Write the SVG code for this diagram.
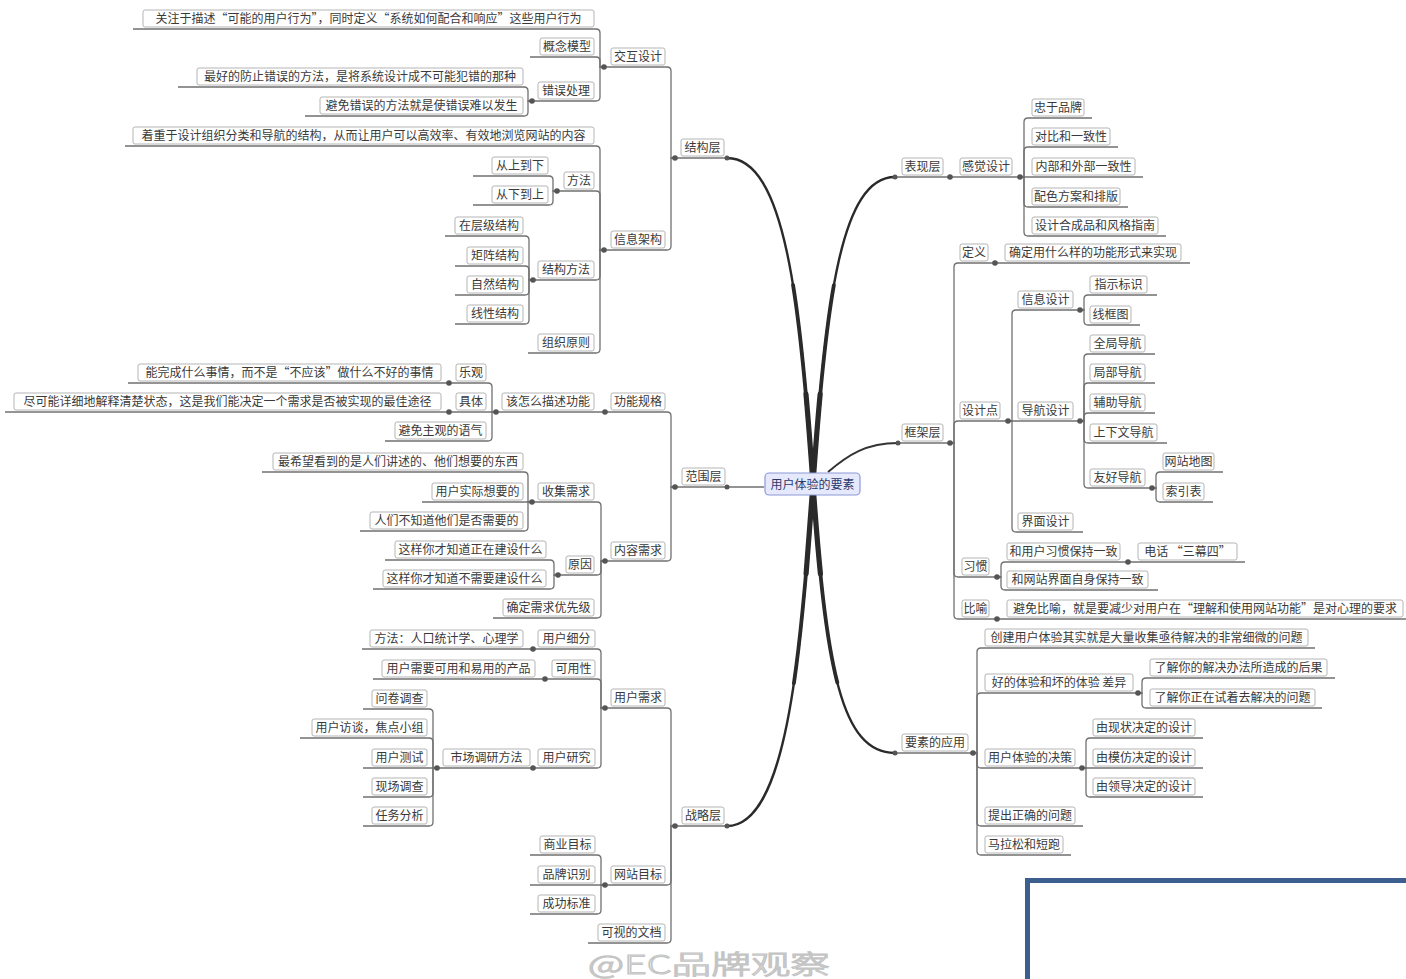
<svg xmlns="http://www.w3.org/2000/svg" width="1406" height="979" viewBox="0 0 1406 979">
<style>
.b{fill:#fff;stroke:#b5b5b5;stroke-width:1}
text{font-family:"Noto Sans CJK SC","Noto Sans",sans-serif;font-size:12px;fill:#3a3a3a;text-anchor:middle}
.c path{fill:none;stroke:#707070;stroke-width:1.3}
.c path.t1{stroke:#2a2a2a;stroke-width:2.4;stroke-linecap:round}
.c path.t2{stroke:#2a2a2a;stroke-width:3.8;stroke-linecap:round;stroke-dasharray:200 2000}
.c path.t3{stroke:#2a2a2a;stroke-width:5.2;stroke-linecap:round;stroke-dasharray:90 2000}
.c path.fw{stroke:#333;stroke-width:2}
.d circle{fill:#555}
</style>
<rect width="1406" height="979" fill="#fff"/>
<g id="connectors" class="c">
<path class="t1" d="M813,484 C800,300 785,158 727,158"/><path class="t2" d="M813,484 C800,300 785,158 727,158"/><path class="t3" d="M813,484 C800,300 785,158 727,158"/>
<path class="t1" d="M813,484 C800,668 785,826 727,826"/><path class="t2" d="M813,484 C800,668 785,826 727,826"/><path class="t3" d="M813,484 C800,668 785,826 727,826"/>
<path class="t1" d="M813,484 C826,300 841,177 895,177"/><path class="t2" d="M813,484 C826,300 841,177 895,177"/><path class="t3" d="M813,484 C826,300 841,177 895,177"/>
<path class="t1" d="M813,484 C826,668 841,753 895,753"/><path class="t2" d="M813,484 C826,668 841,753 895,753"/><path class="t3" d="M813,484 C826,668 841,753 895,753"/>
<path class="fw" d="M828,472 C848,455 866,443 898,443"/>
<path d="M764,487 H675"/>
<path d="M675,158 H727"/>
<path d="M675,826 H727"/>
<path d="M895,177 H950"/>
<path d="M898,443 H950"/>
<path d="M895,753 H973"/>
<path d="M675,158 H671 V71 Q671,67 667,67 H604"/>
<path d="M675,158 H671 V246 Q671,250 667,250 H604"/>
<path d="M604,67 H600 V33 Q600,29 596,29 H133"/>
<path d="M604,67 H600 V61 Q600,57 596,57 H530"/>
<path d="M604,67 H600 V97 Q600,101 596,101 H532"/>
<path d="M532,101 H528 V91 Q528,87 524,87 H178"/>
<path d="M532,101 H528 V112 Q528,116 524,116 H305"/>
<path d="M604,250 H600 V150 Q600,146 596,146 H125"/>
<path d="M604,250 H600 V195 Q600,191 596,191 H557"/>
<path d="M604,250 H600 V276 Q600,280 596,280 H533"/>
<path d="M604,250 H600 V349 Q600,353 596,353 H528"/>
<path d="M557,191 H553 V180 Q553,176 549,176 H473"/>
<path d="M557,191 H553 V201 Q553,205 549,205 H473"/>
<path d="M533,280 H529 V240 Q529,236 525,236 H445"/>
<path d="M533,280 H529 V270 Q529,266 525,266 H455"/>
<path d="M533,280 H529 V291 Q529,295 525,295 H455"/>
<path d="M533,280 H529 V320 Q529,324 525,324 H455"/>
<path d="M675,487 H671 V416 Q671,412 667,412 H605"/>
<path d="M675,487 H671 V557 Q671,561 667,561 H605"/>
<path d="M605,412 H496"/>
<path d="M496,412 H492 V387 Q492,383 488,383 H449"/>
<path d="M496,412 H449"/>
<path d="M496,412 H492 V437 Q492,441 488,441 H385"/>
<path d="M449,383 H128"/>
<path d="M449,412 H5"/>
<path d="M605,561 H601 V506 Q601,502 597,502 H532"/>
<path d="M605,561 H601 V571 Q601,575 597,575 H558"/>
<path d="M605,561 H601 V614 Q601,618 597,618 H493"/>
<path d="M532,502 H528 V476 Q528,472 524,472 H262"/>
<path d="M532,502 H422"/>
<path d="M532,502 H528 V527 Q528,531 524,531 H360"/>
<path d="M558,575 H554 V564 Q554,560 550,560 H385"/>
<path d="M558,575 H554 V585 Q554,589 550,589 H373"/>
<path d="M675,826 H671 V712 Q671,708 667,708 H605"/>
<path d="M675,826 H671 V881 Q671,885 667,885 H605"/>
<path d="M675,826 H671 V939 Q671,943 667,943 H588"/>
<path d="M605,708 H601 V653 Q601,649 597,649 H533"/>
<path d="M605,708 H601 V683 Q601,679 597,679 H545"/>
<path d="M605,708 H601 V764 Q601,768 597,768 H533"/>
<path d="M533,649 H362"/>
<path d="M545,679 H373"/>
<path d="M533,768 H437"/>
<path d="M437,768 H433 V713 Q433,709 429,709 H363"/>
<path d="M437,768 H433 V742 Q433,738 429,738 H300"/>
<path d="M437,768 H363"/>
<path d="M437,768 H433 V793 Q433,797 429,797 H363"/>
<path d="M437,768 H433 V822 Q433,826 429,826 H363"/>
<path d="M605,885 H601 V859 Q601,855 597,855 H530"/>
<path d="M605,885 H530"/>
<path d="M605,885 H601 V910 Q601,914 597,914 H530"/>
<path d="M950,177 H1020"/>
<path d="M1020,177 H1024 V122 Q1024,118 1028,118 H1092"/>
<path d="M1020,177 H1024 V151 Q1024,147 1028,147 H1118"/>
<path d="M1020,177 H1143"/>
<path d="M1020,177 H1024 V203 Q1024,207 1028,207 H1128"/>
<path d="M1020,177 H1024 V232 Q1024,236 1028,236 H1166"/>
<path d="M950,443 H954 V267 Q954,263 958,263 H995"/>
<path d="M950,443 H954 V425 Q954,421 958,421 H1008"/>
<path d="M950,443 H954 V573 Q954,577 958,577 H997"/>
<path d="M950,443 H954 V615 Q954,619 958,619 H997"/>
<path d="M995,263 H1190"/>
<path d="M1008,421 H1012 V314 Q1012,310 1016,310 H1080"/>
<path d="M1008,421 H1080"/>
<path d="M1008,421 H1012 V528 Q1012,532 1016,532 H1083"/>
<path d="M1080,310 H1084 V299 Q1084,295 1088,295 H1157"/>
<path d="M1080,310 H1084 V321 Q1084,325 1088,325 H1140"/>
<path d="M1080,421 H1084 V358 Q1084,354 1088,354 H1155"/>
<path d="M1080,421 H1084 V387 Q1084,383 1088,383 H1155"/>
<path d="M1080,421 H1084 V417 Q1084,413 1088,413 H1155"/>
<path d="M1080,421 H1084 V439 Q1084,443 1088,443 H1167"/>
<path d="M1080,421 H1084 V484 Q1084,488 1088,488 H1152"/>
<path d="M1152,488 H1156 V476 Q1156,472 1160,472 H1223"/>
<path d="M1152,488 H1156 V498 Q1156,502 1160,502 H1213"/>
<path d="M997,577 H1001 V566 Q1001,562 1005,562 H1128"/>
<path d="M997,577 H1001 V586 Q1001,590 1005,590 H1158"/>
<path d="M1128,562 H1245"/>
<path d="M997,619 H1406"/>
<path d="M973,753 H977 V652 Q977,648 981,648 H1315"/>
<path d="M973,753 H977 V697 Q977,693 981,693 H1138"/>
<path d="M973,753 H977 V764 Q977,768 981,768 H1082"/>
<path d="M973,753 H977 V822 Q977,826 981,826 H1083"/>
<path d="M973,753 H977 V851 Q977,855 981,855 H1071"/>
<path d="M1138,693 H1142 V682 Q1142,678 1146,678 H1335"/>
<path d="M1138,693 H1142 V704 Q1142,708 1146,708 H1322"/>
<path d="M1082,768 H1086 V742 Q1086,738 1090,738 H1203"/>
<path d="M1082,768 H1203"/>
<path d="M1082,768 H1086 V793 Q1086,797 1090,797 H1203"/>
</g>
<g id="dots" class="d">
<circle cx="727" cy="158" r="2.5"/><circle cx="727" cy="826" r="2.5"/><circle cx="895" cy="177" r="2.5"/><circle cx="895" cy="753" r="2.5"/><circle cx="898" cy="443" r="2.5"/><circle cx="727" cy="487" r="2.5"/>
<circle cx="675" cy="158" r="2.8"/><circle cx="604" cy="67" r="2.8"/><circle cx="532" cy="101" r="2.8"/><circle cx="604" cy="250" r="2.8"/><circle cx="557" cy="191" r="2.8"/><circle cx="533" cy="280" r="2.8"/><circle cx="675" cy="487" r="2.8"/><circle cx="605" cy="412" r="2.8"/><circle cx="496" cy="412" r="2.8"/><circle cx="449" cy="383" r="2.8"/><circle cx="449" cy="412" r="2.8"/><circle cx="605" cy="561" r="2.8"/><circle cx="532" cy="502" r="2.8"/><circle cx="558" cy="575" r="2.8"/><circle cx="675" cy="826" r="2.8"/><circle cx="605" cy="708" r="2.8"/><circle cx="533" cy="649" r="2.8"/><circle cx="545" cy="679" r="2.8"/><circle cx="533" cy="768" r="2.8"/><circle cx="437" cy="768" r="2.8"/><circle cx="605" cy="885" r="2.8"/>
<circle cx="950" cy="177" r="2.8"/><circle cx="1020" cy="177" r="2.8"/><circle cx="950" cy="443" r="2.8"/><circle cx="995" cy="263" r="2.8"/><circle cx="1008" cy="421" r="2.8"/><circle cx="1080" cy="310" r="2.8"/><circle cx="1080" cy="421" r="2.8"/><circle cx="1152" cy="488" r="2.8"/><circle cx="997" cy="577" r="2.8"/><circle cx="1128" cy="562" r="2.8"/><circle cx="997" cy="619" r="2.8"/><circle cx="973" cy="753" r="2.8"/><circle cx="1138" cy="693" r="2.8"/><circle cx="1082" cy="768" r="2.8"/>
</g>
<g id="root"><rect x="765" y="473" width="95" height="22" rx="4" fill="#e6e9fb" stroke="#8c9ad8" stroke-width="1.2"/><text x="812.5" y="488.5" style="fill:#2b3a6b">用户体验的要素</text></g>
<g id="n1"><rect class="b" x="681" y="139" width="43" height="17" rx="2"/><text x="702.5" y="152">结构层</text></g>
<g id="n2"><rect class="b" x="611" y="48" width="54" height="17" rx="2"/><text x="638" y="61">交互设计</text></g>
<g id="n3"><rect class="b" x="143" y="10" width="451" height="17" rx="2"/><text x="368.5" y="23">关注于描述“可能的用户行为”，同时定义“系统如何配合和响应”这些用户行为</text></g>
<g id="n4"><rect class="b" x="540" y="38" width="54" height="17" rx="2"/><text x="567" y="51">概念模型</text></g>
<g id="n5"><rect class="b" x="538" y="82" width="56" height="17" rx="2"/><text x="566" y="95">错误处理</text></g>
<g id="n6"><rect class="b" x="197" y="68" width="326" height="17" rx="2"/><text x="360" y="81">最好的防止错误的方法，是将系统设计成不可能犯错的那种</text></g>
<g id="n7"><rect class="b" x="320" y="97" width="203" height="17" rx="2"/><text x="421.5" y="110">避免错误的方法就是使错误难以发生</text></g>
<g id="n8"><rect class="b" x="611" y="231" width="54" height="17" rx="2"/><text x="638" y="244">信息架构</text></g>
<g id="n9"><rect class="b" x="133" y="127" width="461" height="17" rx="2"/><text x="363.5" y="140">着重于设计组织分类和导航的结构，从而让用户可以高效率、有效地浏览网站的内容</text></g>
<g id="n10"><rect class="b" x="564" y="172" width="30" height="17" rx="2"/><text x="579" y="185">方法</text></g>
<g id="n11"><rect class="b" x="492" y="157" width="56" height="17" rx="2"/><text x="520" y="170">从上到下</text></g>
<g id="n12"><rect class="b" x="492" y="186" width="56" height="17" rx="2"/><text x="520" y="199">从下到上</text></g>
<g id="n13"><rect class="b" x="538" y="261" width="56" height="17" rx="2"/><text x="566" y="274">结构方法</text></g>
<g id="n14"><rect class="b" x="455" y="217" width="68" height="17" rx="2"/><text x="489" y="230">在层级结构</text></g>
<g id="n15"><rect class="b" x="467" y="247" width="56" height="17" rx="2"/><text x="495" y="260">矩阵结构</text></g>
<g id="n16"><rect class="b" x="467" y="276" width="56" height="17" rx="2"/><text x="495" y="289">自然结构</text></g>
<g id="n17"><rect class="b" x="467" y="305" width="56" height="17" rx="2"/><text x="495" y="318">线性结构</text></g>
<g id="n18"><rect class="b" x="538" y="334" width="56" height="17" rx="2"/><text x="566" y="347">组织原则</text></g>
<g id="n19"><rect class="b" x="682" y="468" width="43" height="17" rx="2"/><text x="703.5" y="481">范围层</text></g>
<g id="n20"><rect class="b" x="611" y="393" width="54" height="17" rx="2"/><text x="638" y="406">功能规格</text></g>
<g id="n21"><rect class="b" x="502" y="393" width="92" height="17" rx="2"/><text x="548" y="406">该怎么描述功能</text></g>
<g id="n22"><rect class="b" x="456" y="364" width="30" height="17" rx="2"/><text x="471" y="377">乐观</text></g>
<g id="n23"><rect class="b" x="456" y="393" width="30" height="17" rx="2"/><text x="471" y="406">具体</text></g>
<g id="n24"><rect class="b" x="395" y="422" width="91" height="17" rx="2"/><text x="440.5" y="435">避免主观的语气</text></g>
<g id="n25"><rect class="b" x="138" y="364" width="303" height="17" rx="2"/><text x="289.5" y="377">能完成什么事情，而不是“不应该”做什么不好的事情</text></g>
<g id="n26"><rect class="b" x="14" y="393" width="427" height="17" rx="2"/><text x="227.5" y="406">尽可能详细地解释清楚状态，这是我们能决定一个需求是否被实现的最佳途径</text></g>
<g id="n27"><rect class="b" x="611" y="542" width="54" height="17" rx="2"/><text x="638" y="555">内容需求</text></g>
<g id="n28"><rect class="b" x="538" y="483" width="56" height="17" rx="2"/><text x="566" y="496">收集需求</text></g>
<g id="n29"><rect class="b" x="566" y="556" width="28" height="17" rx="2"/><text x="580" y="569">原因</text></g>
<g id="n30"><rect class="b" x="503" y="599" width="91" height="17" rx="2"/><text x="548.5" y="612">确定需求优先级</text></g>
<g id="n31"><rect class="b" x="273" y="453" width="250" height="17" rx="2"/><text x="398" y="466">最希望看到的是人们讲述的、他们想要的东西</text></g>
<g id="n32"><rect class="b" x="432" y="483" width="91" height="17" rx="2"/><text x="477.5" y="496">用户实际想要的</text></g>
<g id="n33"><rect class="b" x="370" y="512" width="153" height="17" rx="2"/><text x="446.5" y="525">人们不知道他们是否需要的</text></g>
<g id="n34"><rect class="b" x="395" y="541" width="151" height="17" rx="2"/><text x="470.5" y="554">这样你才知道正在建设什么</text></g>
<g id="n35"><rect class="b" x="383" y="570" width="163" height="17" rx="2"/><text x="464.5" y="583">这样你才知道不需要建设什么</text></g>
<g id="n36"><rect class="b" x="682" y="807" width="42" height="17" rx="2"/><text x="703" y="820">战略层</text></g>
<g id="n37"><rect class="b" x="611" y="689" width="54" height="17" rx="2"/><text x="638" y="702">用户需求</text></g>
<g id="n38"><rect class="b" x="538" y="630" width="57" height="17" rx="2"/><text x="566.5" y="643">用户细分</text></g>
<g id="n39"><rect class="b" x="370" y="630" width="153" height="17" rx="2"/><text x="446.5" y="643">方法：人口统计学、心理学</text></g>
<g id="n40"><rect class="b" x="552" y="660" width="43" height="17" rx="2"/><text x="573.5" y="673">可用性</text></g>
<g id="n41"><rect class="b" x="382" y="660" width="153" height="17" rx="2"/><text x="458.5" y="673">用户需要可用和易用的产品</text></g>
<g id="n42"><rect class="b" x="538" y="749" width="57" height="17" rx="2"/><text x="566.5" y="762">用户研究</text></g>
<g id="n43"><rect class="b" x="443" y="749" width="87" height="17" rx="2"/><text x="486.5" y="762">市场调研方法</text></g>
<g id="n44"><rect class="b" x="372" y="690" width="55" height="17" rx="2"/><text x="399.5" y="703">问卷调查</text></g>
<g id="n45"><rect class="b" x="312" y="719" width="115" height="17" rx="2"/><text x="369.5" y="732">用户访谈，焦点小组</text></g>
<g id="n46"><rect class="b" x="372" y="749" width="55" height="17" rx="2"/><text x="399.5" y="762">用户测试</text></g>
<g id="n47"><rect class="b" x="372" y="778" width="55" height="17" rx="2"/><text x="399.5" y="791">现场调查</text></g>
<g id="n48"><rect class="b" x="372" y="807" width="55" height="17" rx="2"/><text x="399.5" y="820">任务分析</text></g>
<g id="n49"><rect class="b" x="611" y="866" width="54" height="17" rx="2"/><text x="638" y="879">网站目标</text></g>
<g id="n50"><rect class="b" x="540" y="836" width="55" height="17" rx="2"/><text x="567.5" y="849">商业目标</text></g>
<g id="n51"><rect class="b" x="538" y="866" width="57" height="17" rx="2"/><text x="566.5" y="879">品牌识别</text></g>
<g id="n52"><rect class="b" x="538" y="895" width="57" height="17" rx="2"/><text x="566.5" y="908">成功标准</text></g>
<g id="n53"><rect class="b" x="598" y="924" width="67" height="17" rx="2"/><text x="631.5" y="937">可视的文档</text></g>
<g id="n54"><rect class="b" x="902" y="158" width="41" height="17" rx="2"/><text x="922.5" y="171">表现层</text></g>
<g id="n55"><rect class="b" x="960" y="158" width="52" height="17" rx="2"/><text x="986" y="171">感觉设计</text></g>
<g id="n56"><rect class="b" x="1032" y="99" width="52" height="17" rx="2"/><text x="1058" y="112">忠于品牌</text></g>
<g id="n57"><rect class="b" x="1032" y="128" width="78" height="17" rx="2"/><text x="1071" y="141">对比和一致性</text></g>
<g id="n58"><rect class="b" x="1032" y="158" width="103" height="17" rx="2"/><text x="1083.5" y="171">内部和外部一致性</text></g>
<g id="n59"><rect class="b" x="1032" y="188" width="88" height="17" rx="2"/><text x="1076" y="201">配色方案和排版</text></g>
<g id="n60"><rect class="b" x="1032" y="217" width="126" height="17" rx="2"/><text x="1095" y="230">设计合成品和风格指南</text></g>
<g id="n61"><rect class="b" x="902" y="424" width="41" height="17" rx="2"/><text x="922.5" y="437">框架层</text></g>
<g id="n62"><rect class="b" x="960" y="244" width="28" height="17" rx="2"/><text x="974" y="257">定义</text></g>
<g id="n63"><rect class="b" x="1005" y="244" width="176" height="17" rx="2"/><text x="1093" y="257">确定用什么样的功能形式来实现</text></g>
<g id="n64"><rect class="b" x="960" y="402" width="40" height="17" rx="2"/><text x="980" y="415">设计点</text></g>
<g id="n65"><rect class="b" x="1018" y="291" width="55" height="17" rx="2"/><text x="1045.5" y="304">信息设计</text></g>
<g id="n66"><rect class="b" x="1090" y="276" width="57" height="17" rx="2"/><text x="1118.5" y="289">指示标识</text></g>
<g id="n67"><rect class="b" x="1090" y="306" width="41" height="17" rx="2"/><text x="1110.5" y="319">线框图</text></g>
<g id="n68"><rect class="b" x="1018" y="402" width="55" height="17" rx="2"/><text x="1045.5" y="415">导航设计</text></g>
<g id="n69"><rect class="b" x="1090" y="335" width="55" height="17" rx="2"/><text x="1117.5" y="348">全局导航</text></g>
<g id="n70"><rect class="b" x="1090" y="364" width="55" height="17" rx="2"/><text x="1117.5" y="377">局部导航</text></g>
<g id="n71"><rect class="b" x="1090" y="394" width="55" height="17" rx="2"/><text x="1117.5" y="407">辅助导航</text></g>
<g id="n72"><rect class="b" x="1090" y="424" width="67" height="17" rx="2"/><text x="1123.5" y="437">上下文导航</text></g>
<g id="n73"><rect class="b" x="1090" y="469" width="55" height="17" rx="2"/><text x="1117.5" y="482">友好导航</text></g>
<g id="n74"><rect class="b" x="1163" y="453" width="51" height="17" rx="2"/><text x="1188.5" y="466">网站地图</text></g>
<g id="n75"><rect class="b" x="1163" y="483" width="41" height="17" rx="2"/><text x="1183.5" y="496">索引表</text></g>
<g id="n76"><rect class="b" x="1018" y="513" width="55" height="17" rx="2"/><text x="1045.5" y="526">界面设计</text></g>
<g id="n77"><rect class="b" x="962" y="558" width="27" height="17" rx="2"/><text x="975.5" y="571">习惯</text></g>
<g id="n78"><rect class="b" x="1007" y="543" width="113" height="17" rx="2"/><text x="1063.5" y="556">和用户习惯保持一致</text></g>
<g id="n79"><rect class="b" x="1138" y="543" width="99" height="17" rx="2"/><text x="1187.5" y="556">电话 “三幕四”</text></g>
<g id="n80"><rect class="b" x="1007" y="571" width="141" height="17" rx="2"/><text x="1077.5" y="584">和网站界面自身保持一致</text></g>
<g id="n81"><rect class="b" x="962" y="600" width="27" height="17" rx="2"/><text x="975.5" y="613">比喻</text></g>
<g id="n82"><rect class="b" x="1007" y="600" width="396" height="17" rx="2"/><text x="1205" y="613">避免比喻，就是要减少对用户在“理解和使用网站功能”是对心理的要求</text></g>
<g id="n83"><rect class="b" x="902" y="734" width="66" height="17" rx="2"/><text x="935" y="747">要素的应用</text></g>
<g id="n84"><rect class="b" x="985" y="629" width="323" height="17" rx="2"/><text x="1146.5" y="642">创建用户体验其实就是大量收集亟待解决的非常细微的问题</text></g>
<g id="n85"><rect class="b" x="985" y="674" width="148" height="17" rx="2"/><text x="1059" y="687">好的体验和坏的体验  差异</text></g>
<g id="n86"><rect class="b" x="1150" y="659" width="177" height="17" rx="2"/><text x="1238.5" y="672">了解你的解决办法所造成的后果</text></g>
<g id="n87"><rect class="b" x="1150" y="689" width="165" height="17" rx="2"/><text x="1232.5" y="702">了解你正在试着去解决的问题</text></g>
<g id="n88"><rect class="b" x="985" y="749" width="90" height="17" rx="2"/><text x="1030" y="762">用户体验的决策</text></g>
<g id="n89"><rect class="b" x="1093" y="719" width="102" height="17" rx="2"/><text x="1144" y="732">由现状决定的设计</text></g>
<g id="n90"><rect class="b" x="1093" y="749" width="102" height="17" rx="2"/><text x="1144" y="762">由模仿决定的设计</text></g>
<g id="n91"><rect class="b" x="1093" y="778" width="102" height="17" rx="2"/><text x="1144" y="791">由领导决定的设计</text></g>
<g id="n92"><rect class="b" x="985" y="807" width="90" height="17" rx="2"/><text x="1030" y="820">提出正确的问题</text></g>
<g id="n93"><rect class="b" x="985" y="836" width="78" height="17" rx="2"/><text x="1024" y="849">马拉松和短跑</text></g>
<g id="watermark"><text x="709" y="974" textLength="242" lengthAdjust="spacingAndGlyphs" style="font-size:26px;fill:#fff;stroke:#c4c4c4;stroke-width:1.1;font-weight:300">@EC品牌观察</text></g>
<rect id="frame" x="1027.5" y="880.5" width="400" height="120" fill="none" stroke="#3b5f8f" stroke-width="5"/>
</svg>
